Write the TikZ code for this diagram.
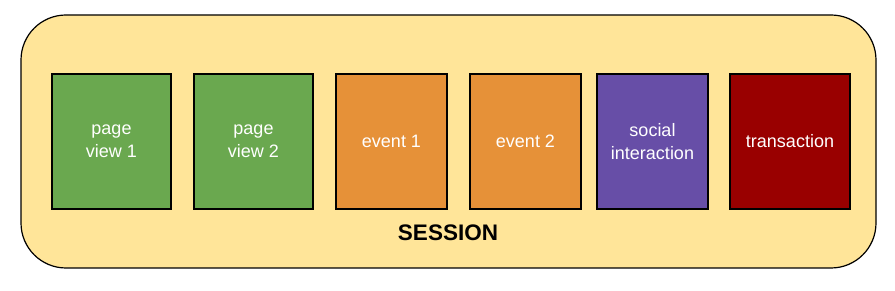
\documentclass[tikz,border=0pt]{standalone}
\usepackage{fontspec}
\setmainfont{Liberation Sans}
\usepackage{xcolor}
\usetikzlibrary{positioning}

\definecolor{sessionyellow}{HTML}{FFE599}
\definecolor{pagegreen}{HTML}{6AA84F}
\definecolor{eventorange}{HTML}{E69138}
\definecolor{socialpurple}{HTML}{674EA7}
\definecolor{transred}{HTML}{990000}

\tikzset{
  hitbox/.style={draw=black, line width=1.2pt, minimum height=135pt, inner sep=0pt, outer sep=0pt,
    text=white, align=center, font=\fontsize{18}{23}\selectfont},
  sessionbox/.style={draw=black, line width=1.2pt, fill=sessionyellow, rounded corners=45pt,
    inner sep=0pt}
}

\begin{document}
\begin{tikzpicture}[x=1pt,y=-1pt]
        \useasboundingbox (0,0) rectangle (895,291);
        \node[sessionbox, minimum width=855pt, minimum height=253pt] (frame) at (448.5,141.5) {};
        \node[hitbox, fill=pagegreen, minimum width=119pt] (pv1) at (111.5,141.5) {page\\view 1};
        \node[hitbox, fill=pagegreen, minimum width=119pt, right=23pt of pv1] (pv2) {page\\view 2};
        \node[hitbox, fill=eventorange, minimum width=111pt, right=23pt of pv2] (ev1) {event 1};
        \node[hitbox, fill=eventorange, minimum width=111pt, right=23pt of ev1] (ev2) {event 2};
        \node[hitbox, fill=socialpurple, minimum width=111pt, right=16pt of ev2] (social) {social\\interaction};
        \node[hitbox, fill=transred, minimum width=120pt, right=22pt of social] (trans) {transaction};
        \node[font=\bfseries\fontsize{22.5}{26}\selectfont] (session) at (448,232.5) {SESSION};
\end{tikzpicture}
\end{document}
